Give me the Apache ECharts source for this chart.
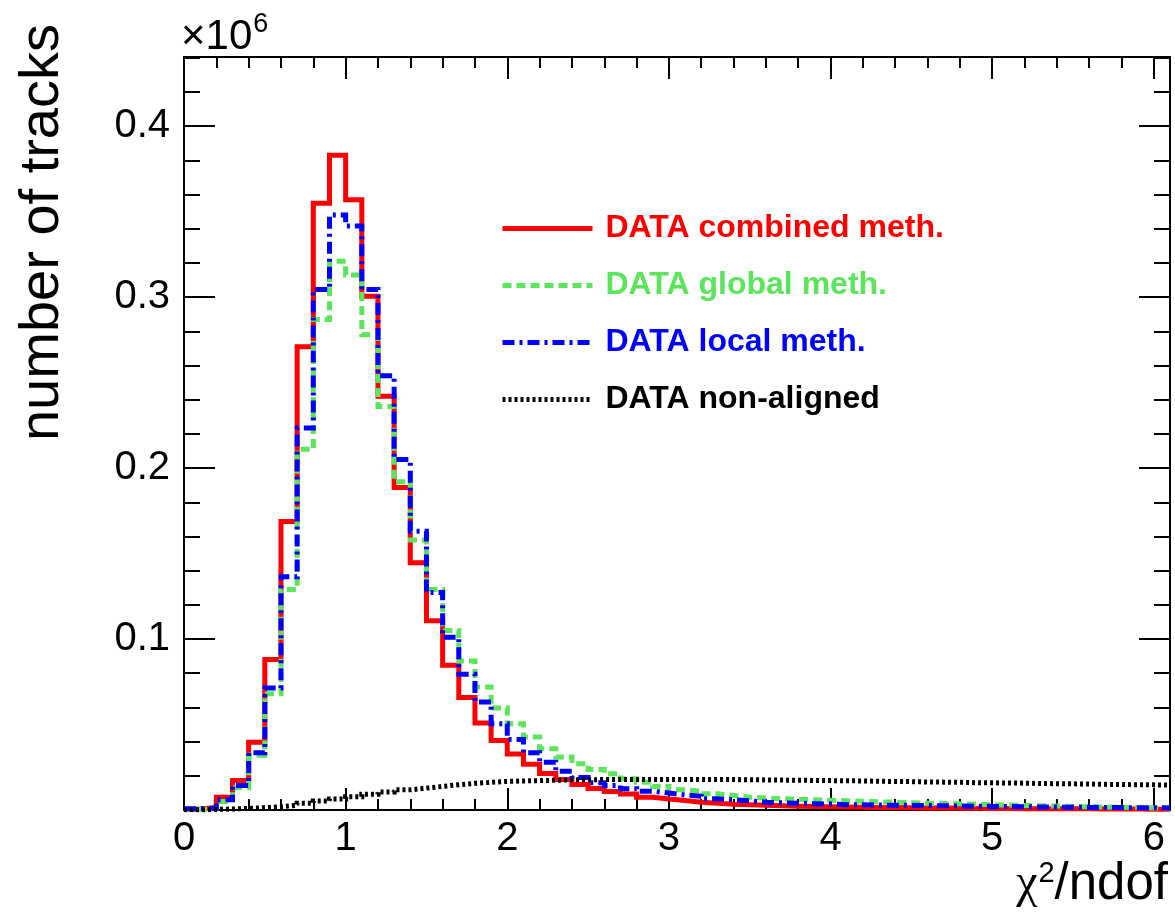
<!DOCTYPE html>
<html>
<head>
<meta charset="utf-8">
<script src="https://cdn.jsdelivr.net/npm/echarts@6/dist/echarts.min.js"></script>
<style>
  html, body { margin: 0; padding: 0; background: #ffffff; }
  #chart { width: 1175px; height: 918px; }
</style>
</head>
<body>
<div id="chart"></div>
<script>
// Track fit quality: chi2/ndof histograms, 61 bins of width 0.1 starting at 0 (counts in units of 1e6)
const BIN_START = 0;
const BIN_WIDTH = 0.1;

const combinedMeth = [
  0.0005, 0.0016, 0.0075, 0.0173, 0.0397, 0.0880, 0.1687, 0.2710, 0.3550, 0.3830,
  0.3570, 0.3006, 0.2420, 0.1886, 0.1447, 0.1107, 0.0847, 0.0658, 0.0509, 0.0407,
  0.0328, 0.0267, 0.0214, 0.0178, 0.0149, 0.0126, 0.0108, 0.0093, 0.0075, 0.0064,
  0.0056, 0.0046, 0.0040, 0.0034, 0.0031, 0.0028, 0.0025, 0.0022, 0.0021, 0.0019,
  0.0018, 0.0016, 0.0015, 0.0014, 0.0013, 0.0012, 0.0011, 0.0011, 0.0010, 0.0009,
  0.0009, 0.0008, 0.0008, 0.0007, 0.0007, 0.0007, 0.0006, 0.0006, 0.0006, 0.0005,
  0.0005
];

const globalMeth = [
  0.0003, 0.0008, 0.0050, 0.0130, 0.0320, 0.0680, 0.1290, 0.2110, 0.2870, 0.3210,
  0.3130, 0.2780, 0.2360, 0.1920, 0.1580, 0.1290, 0.1050, 0.0872, 0.0720, 0.0597,
  0.0505, 0.0427, 0.0359, 0.0310, 0.0271, 0.0237, 0.0212, 0.0183, 0.0163, 0.0138,
  0.0118, 0.0110, 0.0095, 0.0085, 0.0075, 0.0070, 0.0066, 0.0062, 0.0060, 0.0057,
  0.0054, 0.0051, 0.0048, 0.0046, 0.0043, 0.0040, 0.0038, 0.0036, 0.0034, 0.0031,
  0.0029, 0.0027, 0.0025, 0.0023, 0.0021, 0.0019, 0.0017, 0.0016, 0.0014, 0.0012,
  0.0011
];

const localMeth = [
  0.0008, 0.0010, 0.0060, 0.0144, 0.0335, 0.0714, 0.1365, 0.2234, 0.3045, 0.3480,
  0.3416, 0.3045, 0.2540, 0.2050, 0.1630, 0.1273, 0.1010, 0.0794, 0.0632, 0.0505,
  0.0413, 0.0335, 0.0280, 0.0227, 0.0190, 0.0160, 0.0144, 0.0125, 0.0110, 0.0099,
  0.0088, 0.0080, 0.0066, 0.0060, 0.0054, 0.0046, 0.0042, 0.0040, 0.0037, 0.0035,
  0.0031, 0.0030, 0.0029, 0.0028, 0.0027, 0.0026, 0.0025, 0.0023, 0.0022, 0.0021,
  0.0020, 0.0019, 0.0018, 0.0017, 0.0016, 0.0015, 0.0015, 0.0014, 0.0013, 0.0013,
  0.0012
];

const nonAligned = [
  0.0001, 0.0003, 0.0006, 0.0009, 0.0014, 0.0019, 0.0028, 0.0040, 0.0052, 0.0065,
  0.0078, 0.0092, 0.0106, 0.0118, 0.0128, 0.0138, 0.0148, 0.0156, 0.0162, 0.0167,
  0.0170, 0.0172, 0.0174, 0.0176, 0.0177, 0.0178, 0.0178, 0.0179, 0.0179, 0.0179,
  0.0179, 0.0179, 0.0178, 0.0178, 0.0177, 0.0176, 0.0175, 0.0174, 0.0173, 0.0172,
  0.0171, 0.0170, 0.0168, 0.0167, 0.0166, 0.0164, 0.0163, 0.0162, 0.0160, 0.0159,
  0.0158, 0.0157, 0.0155, 0.0154, 0.0153, 0.0152, 0.0150, 0.0149, 0.0148, 0.0147,
  0.0146
];

const seriesNames = ['DATA combined meth.', 'DATA global meth.', 'DATA local meth.', 'DATA non-aligned'];
const xTickLabels = ['0', '1', '2', '3', '4', '5', '6'];
const yTickLabels = ['0.1', '0.2', '0.3', '0.4'];

const X_MAX = 6.1;
const Y_MAX = 0.4405;

// Step outline: one point per bin low edge, plus the upper edge of the last bin
function histPoints(values) {
  const pts = values.map((v, i) => [+(BIN_START + i * BIN_WIDTH).toFixed(3), v]);
  pts.push([+(BIN_START + values.length * BIN_WIDTH).toFixed(3), values[values.length - 1]]);
  return pts;
}

const RED = '#ff0000';
const GREEN = '#5be55b';
const BLUE = '#0000ff';
const BLACK = '#000000';

const labelFont = 'Liberation Sans, Arial, Helvetica, sans-serif';

function xLabel(v) {
  const k = Math.round(v);
  return Math.abs(v - k) < 1e-6 && xTickLabels.indexOf(String(k)) >= 0 ? String(k) : '';
}
function yLabel(v) {
  const s = v.toFixed(1);
  return Math.abs(v - +s) < 1e-6 && yTickLabels.indexOf(s) >= 0 ? s : '';
}

function histSeries(name, values, color, width, dash, z) {
  return {
    name: name,
    type: 'line',
    step: 'end',
    data: histPoints(values),
    symbol: 'none',
    showSymbol: false,
    clip: true,
    z: z,
    lineStyle: { color: color, width: width, type: dash, cap: 'butt', join: 'miter' },
    itemStyle: { color: color },
    emphasis: { disabled: true },
    animation: false
  };
}

const chart = echarts.init(document.getElementById('chart'), null, { renderer: 'canvas' });

const frameLine = { show: true, onZero: false, lineStyle: { color: '#000', width: 2 } };

chart.setOption({
  backgroundColor: '#ffffff',
  animation: false,
  grid: { left: 184, right: 5, top: 57, bottom: 108, containLabel: false },
  xAxis: [
    {
      type: 'value', position: 'bottom', min: 0, max: X_MAX, interval: 1,
      axisLine: frameLine,
      axisTick: { show: true, inside: true, length: 22, lineStyle: { color: '#000', width: 2 } },
      minorTick: { show: true, splitNumber: 5, length: 11, lineStyle: { color: '#000', width: 2 } },
      splitLine: { show: false },
      axisLabel: {
        show: true, margin: 9, formatter: xLabel,
        fontFamily: labelFont, fontSize: 40, color: '#000'
      }
    },
    {
      type: 'value', position: 'top', min: 0, max: X_MAX, interval: 1,
      axisLine: frameLine,
      axisTick: { show: true, inside: true, length: 22, lineStyle: { color: '#000', width: 2 } },
      minorTick: { show: true, splitNumber: 5, length: 11, lineStyle: { color: '#000', width: 2 } },
      splitLine: { show: false },
      axisLabel: { show: false }
    }
  ],
  yAxis: [
    {
      type: 'value', position: 'left', min: 0, max: Y_MAX, interval: 0.1,
      axisLine: frameLine,
      axisTick: { show: true, inside: true, length: 31, lineStyle: { color: '#000', width: 2 } },
      minorTick: { show: true, splitNumber: 5, length: 16, lineStyle: { color: '#000', width: 2 } },
      splitLine: { show: false },
      axisLabel: {
        show: true, margin: 14, formatter: yLabel,
        fontFamily: labelFont, fontSize: 40, color: '#000'
      }
    },
    {
      type: 'value', position: 'right', min: 0, max: Y_MAX, interval: 0.1,
      axisLine: frameLine,
      axisTick: { show: true, inside: true, length: 31, lineStyle: { color: '#000', width: 2 } },
      minorTick: { show: true, splitNumber: 5, length: 16, lineStyle: { color: '#000', width: 2 } },
      splitLine: { show: false },
      axisLabel: { show: false }
    }
  ],
  legend: {
    show: true,
    orient: 'vertical',
    left: 495,
    top: 206,
    itemWidth: 90,
    itemHeight: 20,
    itemGap: 22,
    selectedMode: false,
    itemStyle: { opacity: 0 },
    lineStyle: { width: 5 },
    textStyle: {
      fontFamily: labelFont, fontSize: 32, fontWeight: 'bold',
      lineHeight: 35, padding: [0, 0, 0, 8]
    },
    data: [
      { name: seriesNames[0], textStyle: { color: RED } },
      { name: seriesNames[1], textStyle: { color: GREEN } },
      { name: seriesNames[2], textStyle: { color: BLUE } },
      { name: seriesNames[3], textStyle: { color: BLACK } }
    ]
  },
  graphic: [
    {
      // y axis title, right-aligned to the top of the pad
      type: 'text',
      x: 43, y: 24,
      rotation: Math.PI / 2,
      style: {
        text: 'number of tracks',
        font: '56px ' + labelFont,
        fill: '#000',
        textAlign: 'right',
        textVerticalAlign: 'middle'
      }
    },
    {
      // exponent of the y axis scale
      type: 'text',
      x: 181, y: 58,
      style: {
        text: '{m|×10}{e|6}',
        textVerticalAlign: 'bottom',
        rich: {
          m: { font: '42px ' + labelFont, fill: '#000', verticalAlign: 'bottom' },
          e: { font: '27px ' + labelFont, fill: '#000', verticalAlign: 'top', padding: [0, 0, 20, 1] }
        }
      }
    },
    {
      // x axis title
      type: 'text',
      x: 1168, y: 910,
      style: {
        text: '{c|χ}{s|2}{t|/ndof}',
        textAlign: 'right',
        textVerticalAlign: 'bottom',
        rich: {
          c: { font: '48px "Liberation Serif", "DejaVu Serif", serif', fill: '#000' },
          s: { font: '29px ' + labelFont, fill: '#000', padding: [0, 0, 22, 1] },
          t: { font: '51px ' + labelFont, fill: '#000' }
        }
      }
    }
  ],
  series: [
    histSeries(seriesNames[0], combinedMeth, RED, 5, 'solid', 2),
    histSeries(seriesNames[1], globalMeth, GREEN, 5, [9, 5], 3),
    histSeries(seriesNames[2], localMeth, BLUE, 5, [12, 5, 3, 5], 4),
    histSeries(seriesNames[3], nonAligned, BLACK, 5, [3, 3], 5)
  ]
});
</script>
</body>
</html>
